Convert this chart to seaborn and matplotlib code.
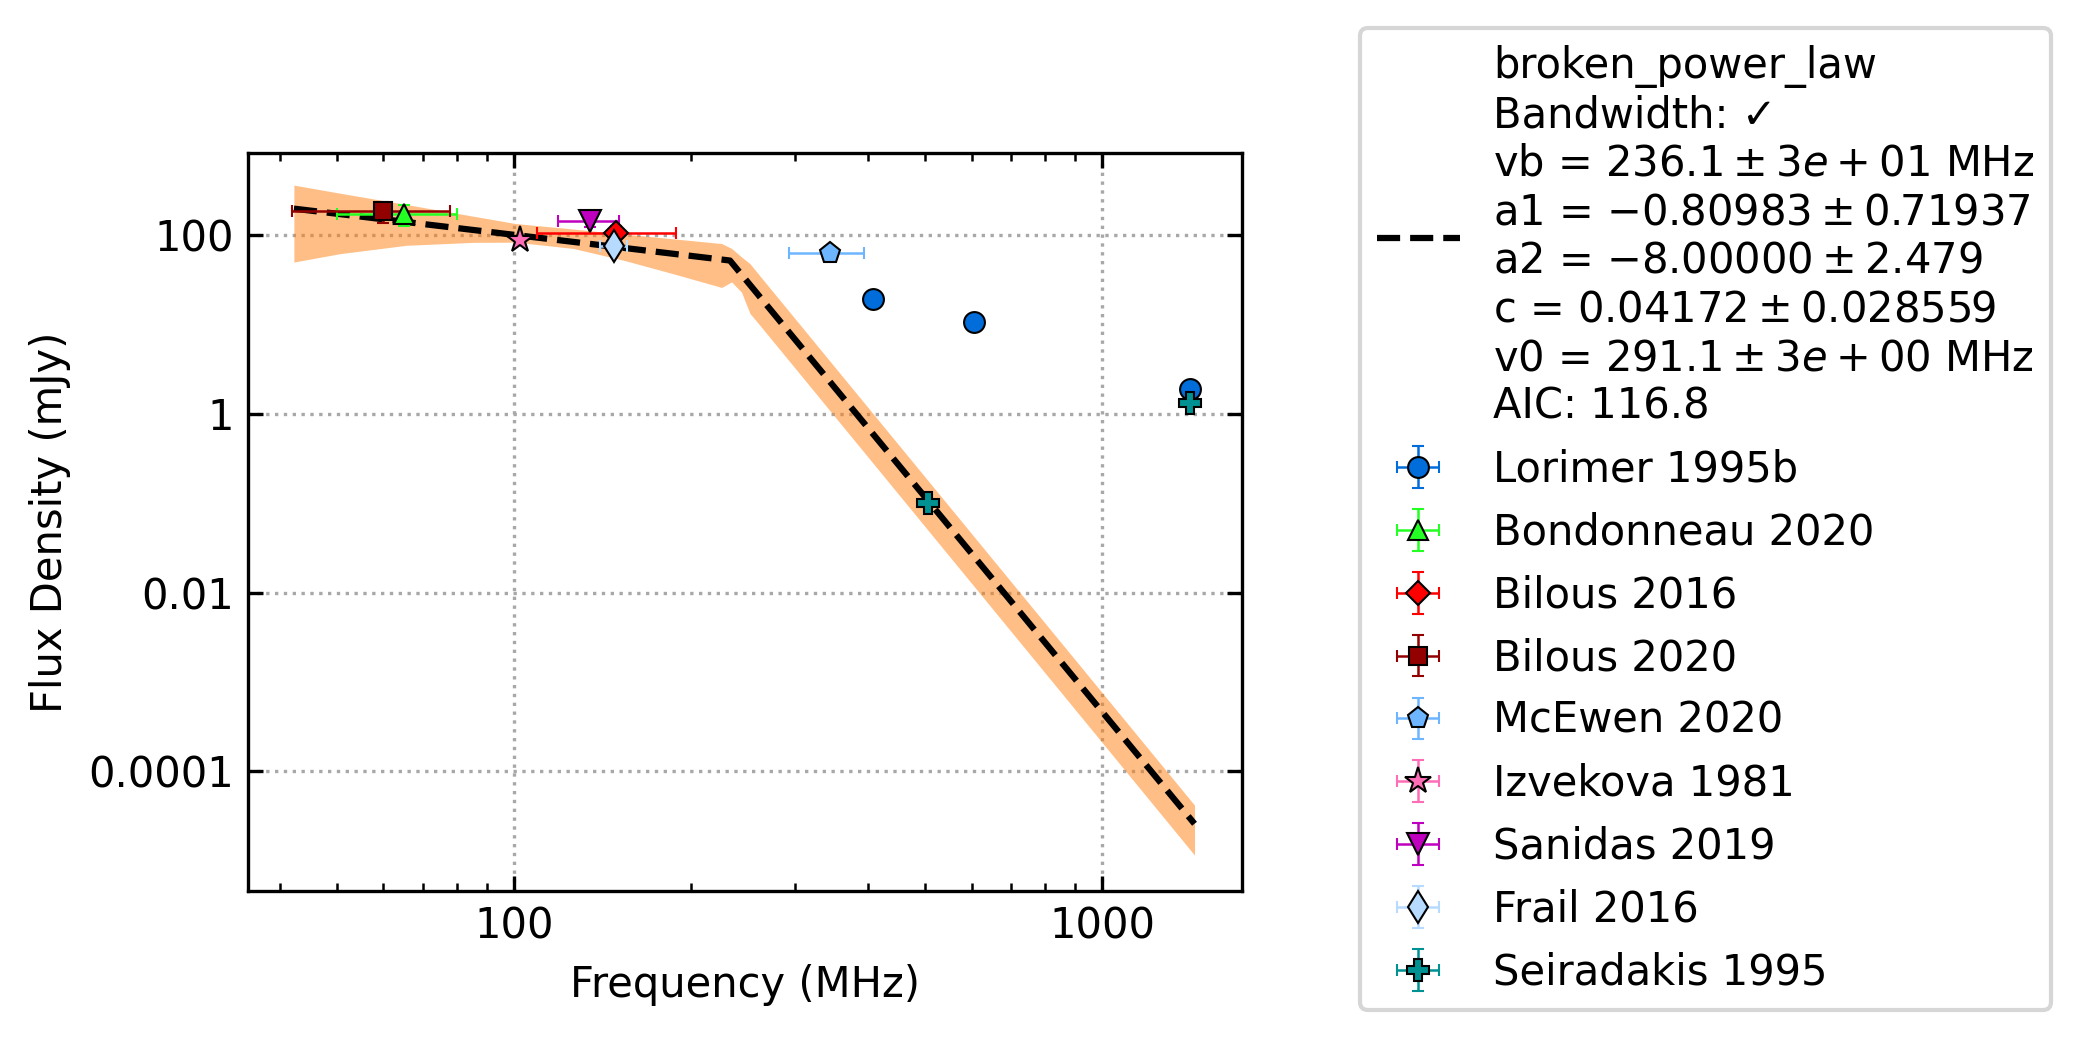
import matplotlib
matplotlib.use("Agg")
import matplotlib.pyplot as plt
import pandas as pd
import seaborn as sns
from matplotlib.ticker import FixedLocator, FuncFormatter, LogLocator, NullFormatter, NullLocator

# broken power law fit (MHz, mJy)
fit_freq = [42.3, 233.0, 1435.0]
fit_flux = [198.0, 52.0, 2.6e-5]

# fit uncertainty envelope
band_freq = [42.3, 50.6, 65.7, 85.3, 100.6, 126.2, 153.5, 186.6, 225.6, 234.5, 243.8, 252.0, 262.0, 1435.0]
band_low = [50.0, 62.0, 77.0, 83.0, 83.5, 71.0, 52.5, 37.0, 26.0, 30.0, 23.0, 13.3, 9.8, 1.16e-5]
band_high = [363.0, 295.0, 220.0, 163.0, 135.0, 117.0, 103.0, 91.0, 80.5, 71.0, 57.0, 48.0, 35.0, 4.2e-5]

# observed flux densities
obs_source = ["Lorimer 1995b", "Lorimer 1995b", "Lorimer 1995b", "Bondonneau 2020", "Bilous 2016",
              "Bilous 2020", "McEwen 2020", "Izvekova 1981", "Sanidas 2019", "Frail 2016",
              "Seiradakis 1995", "Seiradakis 1995"]
obs_freq = [408.0, 606.0, 1410.0, 65.0, 149.0, 60.0, 344.0, 102.5, 135.0, 148.0, 505.0, 1410.0]
obs_flux = [19.3, 10.6, 1.9, 171.0, 106.0, 187.0, 63.0, 88.0, 143.0, 75.0, 0.1, 1.32]
obs_freq_err = [0.0, 0.0, 0.0, 15.0, 39.5, 18.0, 50.0, 0.0, 16.0, 8.0, 0.0, 0.0]
obs_flux_err = [1.9, 1.1, 0.2, 44.0, 20.0, 50.0, 8.0, 9.0, 20.0, 10.0, 0.01, 0.13]

source_order = ["Lorimer 1995b", "Bondonneau 2020", "Bilous 2016", "Bilous 2020", "McEwen 2020",
                "Izvekova 1981", "Sanidas 2019", "Frail 2016", "Seiradakis 1995"]

FIT_LABEL = "\n".join([
    "broken_power_law",
    "Bandwidth: \u2713",
    r"vb = $236.1 \pm 3e+01$ MHz",
    r"a1 = $-0.80983 \pm 0.71937$",
    r"a2 = $-8.00000 \pm 2.479$",
    r"c = $0.04172 \pm 0.028559$",
    r"v0 = $291.1 \pm 3e+00$ MHz",
    "AIC: 116.8",
])


def main():
    sns.set_style("ticks", rc={
        "xtick.direction": "in", "ytick.direction": "in",
        "xtick.top": True, "ytick.right": True,
        "axes.edgecolor": "black", "text.color": "black", "axes.labelcolor": "black",
        "xtick.color": "black", "ytick.color": "black",
    })
    plt.rcParams["font.family"] = ["DejaVu Sans"]
    plt.rcParams["font.size"] = 10

    styles = {
        "Lorimer 1995b": ("o", "#006ddb", 5),
        "Bondonneau 2020": ("^", "#24ff24", 5),
        "Bilous 2016": ("D", "red", 4.2),
        "Bilous 2020": ("s", "#920000", 4.5),
        "McEwen 2020": ("p", "#6db6ff", 5.2),
        "Izvekova 1981": ("*", "#ff6db6", 6.5),
        "Sanidas 2019": ("v", "m", 5.5),
        "Frail 2016": ("d", "#b6dbff", 5.5),
        "Seiradakis 1995": ("P", "#009292", 5.5),
    }

    obs = pd.DataFrame({"source": obs_source, "freq": obs_freq, "flux": obs_flux,
                        "freq_err": obs_freq_err, "flux_err": obs_flux_err})

    fig = plt.figure(figsize=(2082 / 300, 1042 / 300), dpi=300)
    ax = fig.add_axes([0.1193, 0.1449, 0.4771, 0.7085])
    ax.set_xscale("log")
    ax.set_yscale("log")

    ax.fill_between(band_freq, band_low, band_high, color="#ff7f0e", alpha=0.5, linewidth=0, zorder=1)
    sns.lineplot(x=fit_freq, y=fit_flux, color="black", linestyle="--", linewidth=1.5,
                 label=FIT_LABEL, ax=ax, zorder=2)

    for name in source_order:
        marker, color, size = styles[name]
        d = obs[obs["source"] == name]
        ax.errorbar(d["freq"], d["flux"], xerr=d["freq_err"], yerr=d["flux_err"],
                    linestyle="none", marker=marker, color=color, markersize=size,
                    mec="black", mew=0.5, elinewidth=0.6, capsize=1.5, capthick=0.6,
                    label=name, zorder=3)

    ax.set_xlim(35.4, 1726)
    ax.set_ylim(4.6e-6, 835)

    fmt = FuncFormatter(lambda v, p: f"{v:g}")
    ax.xaxis.set_major_locator(FixedLocator([100, 1000]))
    ax.xaxis.set_major_formatter(fmt)
    ax.xaxis.set_minor_locator(LogLocator(base=10, subs=range(2, 10)))
    ax.xaxis.set_minor_formatter(NullFormatter())
    ax.yaxis.set_major_locator(FixedLocator([1e-4, 1e-2, 1, 100]))
    ax.yaxis.set_major_formatter(fmt)
    ax.yaxis.set_minor_locator(NullLocator())
    ax.tick_params(which="major", length=3.5, width=0.8, labelsize=10)
    ax.tick_params(which="minor", length=2, width=0.6)
    for sp in ax.spines.values():
        sp.set_linewidth(0.8)

    ax.grid(True, which="major", linestyle=":", color="#a8a8a8", linewidth=0.8)
    ax.set_xlabel("Frequency (MHz)", fontsize=10)
    ax.set_ylabel("Flux Density (mJy)", fontsize=10)

    handles, labels = ax.get_legend_handles_labels()
    ax.legend(handles, labels, loc="center left", bbox_to_anchor=(0.6532, 0.502),
              bbox_transform=fig.transFigure, borderaxespad=0, fontsize=10)

    fig.savefig("out.png", dpi=300)
    plt.close(fig)


if __name__ == "__main__":
    main()
